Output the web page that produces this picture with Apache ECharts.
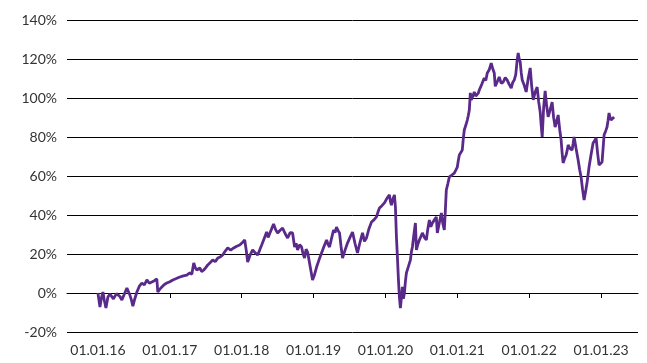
<!DOCTYPE html>
<html>
<head>
<meta charset="utf-8">
<script src="https://cdn.jsdelivr.net/npm/echarts@6/dist/echarts.min.js"></script>
<style>
  html, body { margin: 0; padding: 0; background: #fff; }
  #chart { width: 647px; height: 363px; }
</style>
</head>
<body>
<div id="chart"></div>
<script>
// Time in decimal years
const t = [
  2016.000, 2016.028, 2016.049, 2016.069, 2016.090, 2016.111, 2016.139, 2016.167, 2016.194, 2016.215,
  2016.236, 2016.257, 2016.278, 2016.306, 2016.333, 2016.368, 2016.403, 2016.444, 2016.465, 2016.486,
  2016.514, 2016.542, 2016.576, 2016.611, 2016.646, 2016.681, 2016.715, 2016.750, 2016.785, 2016.819,
  2016.833, 2016.861, 2016.889, 2016.924, 2016.958, 2017.000, 2017.042, 2017.090, 2017.139, 2017.188,
  2017.236, 2017.278, 2017.306, 2017.333, 2017.354, 2017.375, 2017.417, 2017.444, 2017.472, 2017.500,
  2017.528, 2017.563, 2017.597, 2017.632, 2017.667, 2017.701, 2017.736, 2017.771, 2017.806, 2017.847,
  2017.889, 2017.931, 2017.972, 2018.007, 2018.042, 2018.063, 2018.083, 2018.118, 2018.153, 2018.188,
  2018.222, 2018.250, 2018.278, 2018.313, 2018.347, 2018.368, 2018.389, 2018.417, 2018.444, 2018.472,
  2018.500, 2018.535, 2018.569, 2018.604, 2018.639, 2018.674, 2018.708, 2018.736, 2018.757, 2018.778,
  2018.806, 2018.833, 2018.854, 2018.875, 2018.896, 2018.917, 2018.944, 2018.965, 2018.986, 2019.014,
  2019.042, 2019.076, 2019.111, 2019.146, 2019.181, 2019.201, 2019.222, 2019.250, 2019.278, 2019.299,
  2019.319, 2019.340, 2019.361, 2019.382, 2019.403, 2019.438, 2019.472, 2019.507, 2019.542, 2019.576,
  2019.611, 2019.646, 2019.681, 2019.708, 2019.736, 2019.771, 2019.806, 2019.840, 2019.875, 2019.896,
  2019.917, 2019.951, 2019.986, 2020.021, 2020.056, 2020.069, 2020.083, 2020.104, 2020.125, 2020.139,
  2020.153, 2020.167, 2020.181, 2020.194, 2020.208, 2020.222, 2020.236, 2020.250, 2020.264, 2020.278,
  2020.292, 2020.319, 2020.347, 2020.361, 2020.375, 2020.396, 2020.417, 2020.431, 2020.451, 2020.472,
  2020.493, 2020.514, 2020.542, 2020.569, 2020.590, 2020.611, 2020.632, 2020.653, 2020.681, 2020.708,
  2020.722, 2020.750, 2020.778, 2020.799, 2020.819, 2020.833, 2020.847, 2020.868, 2020.889, 2020.924,
  2020.958, 2020.979, 2021.000, 2021.014, 2021.028, 2021.049, 2021.069, 2021.083, 2021.097, 2021.118,
  2021.139, 2021.153, 2021.167, 2021.181, 2021.194, 2021.208, 2021.222, 2021.236, 2021.257, 2021.278,
  2021.292, 2021.306, 2021.340, 2021.375, 2021.396, 2021.417, 2021.444, 2021.472, 2021.493, 2021.514,
  2021.528, 2021.542, 2021.563, 2021.583, 2021.611, 2021.639, 2021.667, 2021.694, 2021.722, 2021.750,
  2021.771, 2021.792, 2021.813, 2021.833, 2021.847, 2021.861, 2021.875, 2021.889, 2021.903, 2021.931,
  2021.958, 2021.986, 2022.014, 2022.035, 2022.056, 2022.083, 2022.111, 2022.132, 2022.153, 2022.167,
  2022.181, 2022.201, 2022.222, 2022.243, 2022.264, 2022.292, 2022.319, 2022.340, 2022.361, 2022.382,
  2022.403, 2022.424, 2022.444, 2022.458, 2022.472, 2022.493, 2022.514, 2022.528, 2022.542, 2022.569,
  2022.597, 2022.611, 2022.625, 2022.653, 2022.681, 2022.701, 2022.722, 2022.743, 2022.764, 2022.785,
  2022.806, 2022.819, 2022.833, 2022.861, 2022.889, 2022.910, 2022.931, 2022.951, 2022.972, 2022.993,
  2023.014, 2023.028, 2023.042, 2023.063, 2023.083, 2023.097, 2023.111, 2023.125, 2023.139, 2023.160,
  2023.181
];

// Cumulative performance in percent
const perf = [
  0.0, -7.2, -2.5, 0.5, -4.0, -7.7, -2.1, -0.5, -1.0, -3.0,
  -2.6, -0.3, 0.5, -1.8, -3.6, -0.5, 2.6, -1.0, -3.5, -6.7,
  -2.8, 0.5, 3.5, 5.1, 4.2, 6.7, 5.0, 5.6, 6.3, 7.2,
  0.5, 2.0, 3.1, 4.4, 5.1, 5.8, 6.7, 7.4, 8.2, 8.8,
  9.2, 10.3, 9.6, 15.4, 13.0, 11.8, 12.8, 11.0, 11.8, 13.0,
  14.4, 15.6, 16.9, 16.1, 17.9, 18.5, 19.5, 21.5, 23.1, 22.0,
  23.1, 24.0, 24.6, 25.8, 27.2, 22.0, 15.9, 19.5, 22.1, 20.6,
  19.5, 22.0, 24.6, 28.0, 31.3, 28.5, 29.2, 33.0, 35.4, 32.5,
  30.8, 32.2, 33.3, 30.5, 28.2, 31.0, 30.8, 23.6, 25.5, 22.1,
  24.8, 23.6, 20.0, 17.9, 22.5, 21.0, 15.4, 11.0, 6.7, 9.5,
  13.3, 17.0, 20.5, 24.0, 27.2, 25.0, 23.6, 28.0, 32.3, 31.0,
  33.8, 32.0, 30.8, 24.0, 17.9, 22.0, 25.6, 28.5, 31.3, 25.5,
  20.5, 26.0, 30.8, 26.5, 28.2, 33.0, 36.4, 37.5, 39.0, 41.5,
  43.6, 44.8, 46.2, 48.5, 50.3, 47.0, 45.1, 48.2, 50.3, 44.0,
  28.7, 18.0, 6.7, -2.0, -7.7, -2.5, 3.1, -3.0, 0.0, 6.0,
  10.3, 13.5, 16.9, 21.0, 23.6, 30.0, 35.9, 22.1, 25.0, 27.2,
  29.0, 30.8, 28.5, 27.2, 33.0, 37.4, 34.0, 35.9, 37.5, 39.0,
  30.8, 36.0, 41.0, 35.5, 32.3, 42.0, 52.8, 56.0, 59.5, 60.5,
  61.5, 63.0, 64.6, 68.0, 70.8, 72.0, 73.3, 79.0, 83.6, 86.0,
  88.7, 91.0, 93.8, 102.6, 99.0, 99.0, 101.5, 103.1, 101.0, 100.5,
  102.5, 104.1, 107.0, 110.3, 109.0, 112.8, 114.5, 117.9, 115.0, 112.8,
  106.0, 105.1, 109.0, 110.8, 107.5, 108.2, 110.5, 109.2, 107.0, 105.1,
  108.0, 109.2, 112.0, 119.5, 123.1, 120.0, 118.5, 113.0, 109.2, 106.5,
  103.1, 110.0, 115.4, 106.0, 99.0, 103.0, 105.6, 98.0, 92.8, 86.0,
  80.0, 95.0, 103.6, 96.0, 90.3, 94.0, 97.9, 90.0, 85.1, 88.0,
  91.3, 84.0, 78.5, 72.0, 66.7, 69.0, 70.8, 73.0, 75.9, 74.0,
  73.3, 76.5, 80.0, 74.0, 68.2, 63.5, 59.5, 53.0, 47.7, 52.0,
  56.9, 60.5, 64.6, 71.0, 76.9, 78.0, 79.5, 72.0, 65.6, 66.0,
  67.2, 74.0, 81.0, 83.0, 85.1, 88.5, 92.3, 90.0, 88.7, 89.5,
  90.3
];

// Year-start ticks on the time axis
const yearTicks = [2016, 2017, 2018, 2019, 2020, 2021, 2022, 2023];

// Value axis ticks
const yMin = -20;
const yMax = 140;
const yStep = 20;

const lineColor = '#5a2a8a';
const textColor = '#333333';
const labelFont = 'Lato, "Noto Sans", sans-serif';

const chart = echarts.init(document.getElementById('chart'), null, { renderer: 'canvas' });

chart.setOption({
  animation: false,
  backgroundColor: '#ffffff',
  grid: { left: 67, right: 9, top: 20, bottom: 31, containLabel: false },
  xAxis: {
    type: 'value',
    min: 2016 - 31 / 72,
    max: 2023 + 37 / 72,
    splitLine: { show: false },
    axisLine: { show: true, lineStyle: { color: '#000', width: 1 } },
    axisTick: {
      show: true,
      customValues: yearTicks,
      length: 5,
      lineStyle: { color: '#000', width: 1 }
    },
    axisLabel: {
      customValues: yearTicks,
      color: textColor,
      fontFamily: labelFont,
      fontSize: 14,
      margin: 11,
      formatter: v => '01.01.' + String(Math.round(v)).slice(2)
    }
  },
  yAxis: {
    type: 'value',
    min: yMin,
    max: yMax,
    interval: yStep,
    axisLine: { show: false },
    axisTick: { show: false },
    splitLine: { show: true, lineStyle: { color: '#000', width: 1 } },
    axisLabel: {
      color: textColor,
      fontFamily: labelFont,
      fontSize: 14,
      margin: 10,
      formatter: '{value}%'
    }
  },
  series: [{
    type: 'line',
    data: t.map((x, i) => [x, perf[i]]),
    showSymbol: false,
    smooth: false,
    lineStyle: { color: lineColor, width: 2.8 },
    itemStyle: { color: lineColor },
    z: 3
  }]
});
</script>
</body>
</html>
